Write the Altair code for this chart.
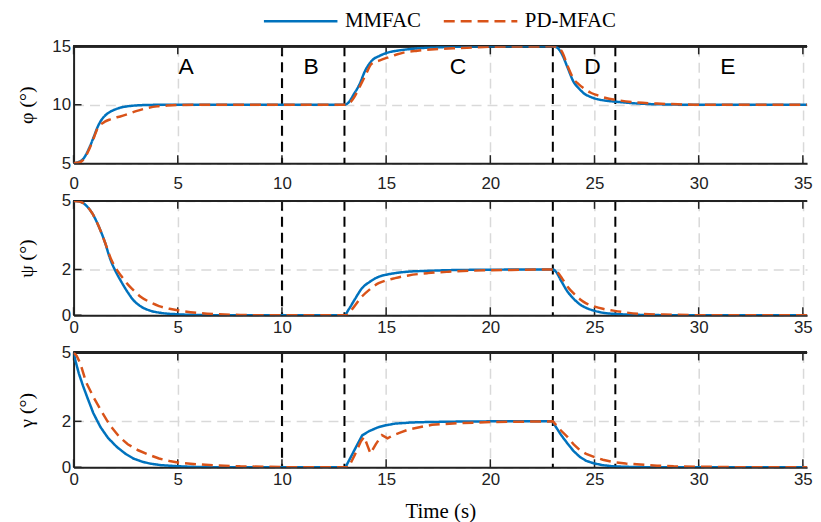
import altair as alt
import pandas as pd

BLUE = "#0072BD"
ORANGE = "#D95319"
SERIES = ["MMFAC", "PD-MFAC"]

X_DOMAIN = [0, 35.2]
X_TICKS = [0, 5, 10, 15, 20, 25, 30, 35]
PHASE_LINES = [10, 13, 23, 26]
REGION_LABELS = ["A", "B", "C", "D", "E"]
REGION_T = [5.4, 11.4, 18.45, 24.9, 31.4]
REGION_Y = [13.2, 13.2, 13.2, 13.2, 13.2]

# ---- panel 1: phi ----
phi_mm_t = [0, 0.25, 0.5, 0.75, 1.0, 1.13, 1.3, 1.5, 1.76, 2.0, 2.24, 2.6, 3.0, 3.5, 4.5, 13,
            13.2, 13.45, 13.7, 14.0, 14.32, 14.7, 15.12, 15.5, 15.9, 16.5, 17.5, 18.5, 20, 23,
            23.2, 23.45, 23.7, 24.0, 24.25, 24.5, 24.8, 25.13, 25.5, 26.08, 27.04, 28, 30, 36]
phi_mm_v = [5, 5.1, 5.45, 6.3, 7.4, 8.0, 8.6, 9.05, 9.4, 9.6, 9.75, 9.87, 9.94, 9.98, 10, 10,
            10.2, 10.9, 11.67, 12.94, 13.79, 14.2, 14.49, 14.62, 14.72, 14.83, 14.92, 14.97, 15, 15,
            14.9, 14.3, 13.22, 11.95, 11.4, 10.96, 10.68, 10.48, 10.36, 10.25, 10.11, 10.04, 10, 10]
phi_pd_t = [0, 0.25, 0.5, 0.75, 1.0, 1.13, 1.3, 1.5, 1.76, 2.0, 2.24, 2.6, 3.0, 3.5, 4.0, 4.5, 5.1, 6, 13,
            13.2, 13.45, 13.69, 14.0, 14.3, 14.7, 15.12, 15.5, 15.9, 16.5, 17.5, 18.45, 20, 23,
            23.2, 23.45, 23.7, 24.0, 24.25, 24.5, 24.8, 25.13, 25.5, 26.08, 27.0, 28, 29, 30, 36]
phi_pd_v = [5, 5.05, 5.35, 6.2, 7.3, 7.9, 8.3, 8.55, 8.75, 8.9, 9.0, 9.2, 9.45, 9.7, 9.86, 9.93, 9.98, 10, 10,
            10.1, 10.6, 11.4, 12.5, 13.5, 13.8, 14.07, 14.3, 14.49, 14.63, 14.77, 14.85, 14.96, 15,
            14.95, 14.5, 13.36, 12.2, 11.75, 11.4, 11.05, 10.82, 10.6, 10.4, 10.2, 10.1, 10.04, 10, 10]

# ---- panel 2: psi ----
psi_mm_t = [0, 0.3, 0.6, 0.9, 1.2, 1.5, 1.76, 2.0, 2.3, 2.6, 2.87, 3.2, 3.67, 4.2, 5, 6, 7, 13,
            13.2, 13.5, 13.85, 14.2, 14.64, 15.0, 15.43, 16, 17, 18, 20, 23,
            23.15, 23.4, 23.7, 24.0, 24.3, 24.6, 24.97, 25.4, 25.9, 26.5, 27.5, 29, 36]
psi_mm_v = [5, 4.97, 4.8, 4.45, 3.9, 3.2, 2.45, 1.95, 1.45, 1.0, 0.66, 0.4, 0.2, 0.1, 0.04, 0.01, 0, 0,
            0.25, 0.7, 1.19, 1.45, 1.68, 1.77, 1.84, 1.9, 1.94, 1.97, 1.99, 2,
            1.9, 1.5, 1.04, 0.72, 0.47, 0.32, 0.2, 0.11, 0.06, 0.03, 0.01, 0, 0]
psi_pd_t = [0, 0.3, 0.6, 0.9, 1.2, 1.5, 1.8, 2.0, 2.3, 2.6, 2.87, 3.2, 3.6, 4.1, 4.6, 5.1, 6, 7, 8, 9, 13.1,
            13.4, 13.85, 14.2, 14.64, 15.0, 15.43, 16.07, 17, 18, 19.25, 21, 23,
            23.2, 23.45, 23.7, 24.0, 24.3, 24.6, 24.97, 25.4, 25.9, 26.5, 27.2, 28.8, 30, 36]
psi_pd_v = [5, 4.97, 4.8, 4.45, 3.9, 3.2, 2.45, 2.1, 1.7, 1.35, 1.1, 0.82, 0.6, 0.4, 0.28, 0.2, 0.1, 0.04, 0.01, 0, 0,
            0.3, 0.83, 1.12, 1.4, 1.52, 1.62, 1.74, 1.84, 1.9, 1.95, 1.98, 2,
            1.9, 1.6, 1.26, 0.95, 0.7, 0.52, 0.39, 0.28, 0.2, 0.12, 0.06, 0.02, 0, 0]

# ---- panel 3: gamma ----
gam_mm_t = [0, 0.1, 0.25, 0.45, 0.65, 0.95, 1.29, 1.65, 2.08, 2.5, 2.87, 3.3, 3.67, 4.2, 5.1, 6, 7, 13.05,
            13.45, 13.85, 14.2, 14.64, 15.0, 15.43, 16.2, 17, 18.5, 20, 23,
            23.15, 23.4, 23.7, 24.0, 24.3, 24.6, 24.97, 25.4, 25.9, 26.5, 27.5, 36]
gam_mm_v = [5, 4.6, 4.09, 3.55, 3.06, 2.35, 1.75, 1.28, 0.88, 0.58, 0.38, 0.24, 0.16, 0.09, 0.04, 0.01, 0, 0,
            0.7, 1.39, 1.58, 1.75, 1.83, 1.9, 1.95, 1.97, 1.99, 2, 2,
            1.75, 1.4, 1.04, 0.7, 0.45, 0.28, 0.17, 0.09, 0.04, 0.02, 0, 0]
gam_pd_t = [0, 0.15, 0.33, 0.6, 0.95, 1.3, 1.6, 1.9, 2.2, 2.6, 3.1, 3.6, 4.1, 4.6, 5.1, 5.9, 6.7, 8, 9.2, 10.5, 13.2,
            13.5, 13.8, 13.95, 14.1, 14.25, 14.5, 14.8, 15.07, 15.3, 15.7, 16.1, 17.2, 18.5, 20, 23,
            23.39, 23.7, 24.0, 24.3, 24.6, 24.97, 25.4, 25.9, 26.5, 27.2, 28, 28.8, 30.4, 32, 36]
gam_pd_v = [5, 4.85, 4.5, 3.7, 3.06, 2.5, 2.04, 1.65, 1.32, 1.0, 0.74, 0.55, 0.38, 0.27, 0.19, 0.13, 0.09, 0.04, 0.02, 0, 0,
            0.55, 1.15, 1.32, 0.95, 0.6, 1.0, 1.4, 1.26, 1.38, 1.52, 1.65, 1.85, 1.92, 1.97, 2,
            1.6, 1.32, 1.0, 0.74, 0.58, 0.45, 0.33, 0.23, 0.16, 0.12, 0.07, 0.04, 0.02, 0, 0]

W = 738


def series_df(t_mm, v_mm, t_pd, v_pd):
    a = pd.DataFrame({"t": t_mm, "v": v_mm, "s": SERIES[0]})
    b = pd.DataFrame({"t": t_pd, "v": v_pd, "s": SERIES[1]})
    return pd.concat([a, b], ignore_index=True)


legend = alt.Legend(
    title=None, orient="none", legendX=190, legendY=-64, direction="horizontal",
    symbolType="stroke", symbolSize=5476, symbolStrokeWidth=2.5,
    labelFont="Liberation Serif", labelFontSize=21, labelColor="black",
    columnPadding=17, labelOffset=6, labelLimit=200,
)


def panel(df, ydom, yticks, ytitle, h, label_pad, interp, xtitle=None, letters=False):
    xaxis = dict(values=X_TICKS, labelPadding=label_pad, labelFlush=False, grid=True, format="d")
    if xtitle:
        xaxis.update(title=xtitle, titleFont="Liberation Serif", titleFontSize=21,
                     titleFontWeight="normal", titleColor="black", titlePadding=14)
    else:
        xaxis.update(title=None)
    x = alt.X("t:Q", scale=alt.Scale(domain=X_DOMAIN, nice=False, zero=False), axis=alt.Axis(**xaxis))
    y = alt.Y("v:Q", scale=alt.Scale(domain=ydom, nice=False, zero=False),
              axis=alt.Axis(values=yticks, title=ytitle, grid=True, labelPadding=3, labelFlush=False,
                            titleFont="Liberation Serif", titleFontSize=20, titleFontWeight="normal",
                            titleColor="black", titleX=-37, titleY=h / 2))
    lines = alt.Chart(df).mark_line(strokeWidth=2.5, clip=True, interpolate=interp).encode(
        x=x, y=y,
        color=alt.Color("s:N", scale=alt.Scale(domain=SERIES, range=[BLUE, ORANGE]), legend=legend),
        strokeDash=alt.StrokeDash("s:N", scale=alt.Scale(domain=SERIES, range=[[1, 0], [11, 6]]), legend=legend),
    )
    phase = alt.Chart(pd.DataFrame({"t": PHASE_LINES})).mark_rule(
        color="black", strokeWidth=2, strokeDash=[10, 6]).encode(x="t:Q")
    xt = pd.DataFrame({"t": X_TICKS})
    top_t = alt.Chart(xt).mark_rule(color="#222", strokeWidth=1.5).encode(x="t:Q", y=alt.value(0), y2=alt.value(8))
    bot_t = alt.Chart(xt).mark_rule(color="#222", strokeWidth=1.5).encode(x="t:Q", y=alt.value(h - 8), y2=alt.value(h))
    yt = pd.DataFrame({"v": yticks})
    left_t = alt.Chart(yt).mark_rule(color="#222", strokeWidth=1.5).encode(y="v:Q", x=alt.value(0), x2=alt.value(8))
    top_edge = alt.Chart(xt).mark_rule(color="#222", strokeWidth=2).encode(
        x=alt.value(0), x2=alt.value(W), y=alt.value(0))
    layers = [phase, top_t, bot_t, left_t, top_edge, lines]
    if letters:
        lab = alt.Chart(pd.DataFrame({"t": REGION_T, "v": REGION_Y, "lab": REGION_LABELS})).mark_text(
            font="Liberation Sans", fontSize=23, color="black", baseline="middle").encode(x="t:Q", y="v:Q", text="lab:N")
        layers.append(lab)
    return alt.layer(*layers).properties(width=W, height=h)


p1 = panel(series_df(phi_mm_t, phi_mm_v, phi_pd_t, phi_pd_v), [5, 15], [5, 10, 15], "φ (°)", 117.5, 13,
           "monotone", letters=True)
p2 = panel(series_df(psi_mm_t, psi_mm_v, psi_pd_t, psi_pd_v), [0, 5], [0, 2, 5], "ψ (°)", 115, 4, "monotone")
p3 = panel(series_df(gam_mm_t, gam_mm_v, gam_pd_t, gam_pd_v), [0, 5], [0, 2, 5], "γ (°)", 115.5, 4, "linear",
           xtitle="Time (s)")

chart = alt.vconcat(p1, p2, p3, spacing=37.5, bounds="flush").properties(
    padding={"left": 9, "top": -27, "right": 0, "bottom": 0},
    background="white",
).configure_view(strokeOpacity=0).configure_axis(
    domain=True, domainColor="#222", domainWidth=2,
    ticks=False, labelFont="Liberation Sans", labelFontSize=17, labelColor="#222",
    gridColor="#d9d9d9", gridDash=[10, 6], gridWidth=1.5,
)

chart.save("out.html", embed_options={"renderer": "svg", "actions": False})
